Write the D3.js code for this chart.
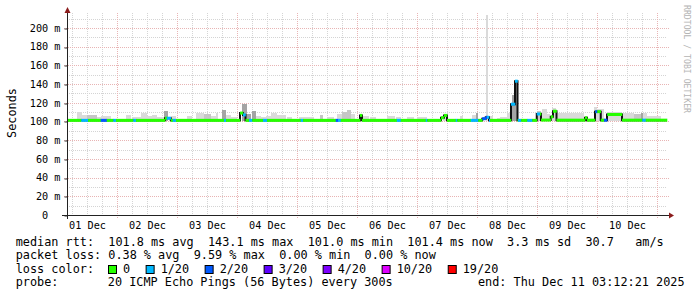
<!DOCTYPE html>
<html>
<head>
<meta charset="utf-8">
<script src="https://cdn.jsdelivr.net/npm/d3@7"></script>
<style>
  body { margin: 0; background: #fff; }
  svg { display: block; }
  text { font-family: "DejaVu Sans Mono", monospace; fill: #000; }
</style>
</head>
<body>
<svg id="chart" width="697" height="297"></svg>
<script>
// hours are counted from 01 Dec 2025 00:00, rtt values are in ms
const START_HOUR = 4;
const END_HOUR = 244;
const Y_TICKS = [0, 20, 40, 60, 80, 100, 120, 140, 160, 180, 200];
const Y_MINOR = [10, 30, 50, 70, 90, 110, 130, 150, 170, 190, 210];
const LOSS_LABELS = ["0", "1/20", "2/20", "3/20", "4/20", "10/20", "19/20"];
const LOSS_COLORS = ["#26ff00", "#00b8ff", "#0059ff", "#5e00ff", "#7e00ff", "#dd00ff", "#ff0000"];

// median rtt: [hour it starts, ms], held until the next entry
const median_steps = [
  [4.0, 101.2], [43.2, 103.5], [45.5, 101.2], [73.2, 109.0], [74.4, 107.0],
  [75.4, 101.2], [121.2, 106.5], [122.0, 101.2], [153.6, 104.0], [154.8, 106.5],
  [156.0, 101.2], [170.1, 103.0], [171.5, 104.5], [172.8, 101.2], [181.6, 118.5],
  [183.2, 143.1], [184.2, 101.2], [191.9, 108.0], [193.6, 101.5], [197.5, 105.0],
  [198.4, 111.0], [199.8, 101.4], [211.2, 104.0], [212.0, 101.4], [215.2, 110.5],
  [217.5, 101.4], [220.0, 107.5], [226.0, 101.4]
];

// packet loss: [from hour, to hour, index in LOSS_LABELS], zero elsewhere
const loss_spans = [
  [9.7, 12.4, 1], [17.5, 19.9, 2], [22.5, 23.6, 1], [30.5, 31.6, 1], [43.9, 45.5, 1],
  [46.3, 47.6, 1], [66.8, 67.6, 1], [74.4, 75.4, 1], [76.8, 78.1, 1], [82.4, 84.0, 1],
  [97.5, 98.4, 1], [111.5, 112.4, 2], [112.4, 113.5, 1], [135.9, 137.5, 1], [147.5, 148.1, 1],
  [159.5, 160.1, 1], [165.5, 168.5, 1], [170.1, 172.0, 2], [172.0, 173.2, 1], [181.6, 184.2, 1],
  [184.4, 185.7, 1], [188.1, 190.1, 1], [191.9, 193.2, 1], [215.3, 216.1, 2], [218.8, 220.1, 2],
  [234.1, 235.5, 1]
];

// smoke: [from hour, to hour, highest ping ms, density 1..3]
const smoke_bars = [
  [8.0, 10.0, 109.8, 1], [10.0, 12.0, 107.0, 1], [12.0, 16.0, 107.3, 2], [16.0, 17.6, 105.1, 1],
  [17.6, 21.6, 105.9, 1], [27.6, 29.6, 107.3, 1], [30.0, 33.6, 105.1, 1], [33.6, 36.0, 108.8, 1],
  [36.0, 38.0, 105.9, 1], [38.0, 40.0, 107.3, 1], [40.0, 42.8, 105.1, 1], [42.8, 44.4, 111.6, 3],
  [45.6, 47.6, 105.9, 1], [52.0, 54.0, 105.9, 1], [55.6, 58.8, 108.8, 1], [58.8, 61.6, 108.0, 2],
  [61.6, 63.6, 105.9, 1], [63.6, 64.4, 109.1, 1], [66.0, 67.6, 112.3, 3], [67.6, 69.6, 107.0, 1],
  [69.6, 72.0, 105.1, 1], [74.0, 76.0, 118.7, 3], [76.0, 77.6, 108.0, 3], [78.0, 79.6, 111.2, 3],
  [79.6, 81.6, 106.2, 1], [81.6, 83.6, 105.1, 1], [83.6, 85.6, 106.2, 1], [85.6, 88.0, 108.8, 1],
  [88.0, 91.6, 107.0, 1], [92.0, 94.0, 105.1, 1], [96.8, 98.8, 105.1, 1], [98.8, 102.8, 104.5, 1],
  [105.2, 106.4, 107.0, 2], [108.0, 110.8, 105.1, 1], [112.0, 114.0, 108.0, 1], [114.0, 116.0, 110.5, 2],
  [116.0, 117.6, 112.3, 2], [117.6, 119.2, 108.0, 1], [122.4, 124.8, 105.9, 1], [125.2, 127.6, 105.1, 1],
  [132.0, 135.2, 105.9, 1], [135.6, 137.6, 105.1, 1], [140.0, 142.8, 105.1, 1], [144.0, 148.0, 105.1, 1],
  [154.4, 156.0, 107.0, 1], [161.2, 162.4, 105.9, 1], [166.0, 167.6, 107.3, 1], [167.6, 168.4, 109.4, 3],
  [171.6, 172.4, 213.9, 1], [172.4, 174.4, 105.9, 1], [176.0, 177.2, 104.1, 1], [177.2, 180.0, 105.1, 1],
  [180.0, 182.0, 108.6, 1], [182.0, 183.2, 128.3, 3], [183.2, 184.0, 143.3, 3], [192.0, 193.6, 111.2, 2],
  [194.0, 196.0, 113.0, 1], [196.0, 197.2, 107.7, 1], [198.0, 199.6, 114.8, 1], [199.6, 201.6, 109.4, 1],
  [201.6, 204.8, 109.4, 1], [204.8, 210.8, 108.6, 1], [210.8, 212.0, 105.1, 3], [214.8, 216.0, 115.8, 1],
  [216.0, 218.8, 113.0, 1], [220.0, 225.6, 110.2, 1], [225.6, 230.8, 108.8, 1], [230.8, 233.6, 107.7, 2],
  [233.6, 234.4, 109.6, 3], [234.4, 236.0, 109.1, 1], [236.0, 241.6, 105.9, 1]
];
const SMOKE_FLOOR = 100.4;

const rtt_line = "median rtt:  101.8 ms avg  143.1 ms max  101.0 ms min  101.4 ms now  3.3 ms sd  30.7   am/s";
const loss_line = "packet loss: 0.38 % avg  9.59 % max  0.00 % min  0.00 % now";
const probe_text = "20 ICMP Echo Pings (56 Bytes) every 300s";
const end_text = "end: Thu Dec 11 03:12:21 2025";

const T0 = Date.UTC(2025, 11, 1);
const hour_date = (h) => new Date(T0 + h * 3600e3);
// keep runs of spaces in svg text
const keep_spaces = (s) => s.replace(/ /g, "\u00a0");

const svg = d3.select("#chart");
const x = d3.scaleUtc().domain([hour_date(START_HOUR), hour_date(END_HOUR)]).range([67, 667]);
const y = d3.scaleLinear().domain([0, 216]).range([215, 13]);
const crisp = (v) => Math.round(v) + 0.5;
const xh = (h) => x(hour_date(h));

// grid
let grid = svg.append("g").attr("stroke-width", 1).attr("stroke-dasharray", "1,1");
let minor_hours = d3.utcHour.every(6).range(hour_date(START_HOUR), hour_date(END_HOUR))
  .filter((d) => d.getUTCHours() != 0);
grid.selectAll(".vmin").data(minor_hours).join("line")
  .attr("stroke", "#d4d4d4")
  .attr("x1", (d) => crisp(x(d))).attr("x2", (d) => crisp(x(d)))
  .attr("y1", 13).attr("y2", 217);
grid.selectAll(".hmin").data(Y_MINOR).join("line")
  .attr("stroke", "#d4d4d4")
  .attr("x1", 67).attr("x2", 667)
  .attr("y1", (d) => crisp(y(d))).attr("y2", (d) => crisp(y(d)));
let days = d3.utcDay.range(hour_date(START_HOUR), hour_date(END_HOUR));
grid.selectAll(".vmaj").data(days).join("line")
  .attr("stroke", "#e8b4b4")
  .attr("x1", (d) => crisp(x(d))).attr("x2", (d) => crisp(x(d)))
  .attr("y1", 13).attr("y2", 218);
grid.selectAll(".hmaj").data(Y_TICKS.filter((v) => v > 0)).join("line")
  .attr("stroke", "#e8b4b4")
  .attr("x1", 64).attr("x2", 670)
  .attr("y1", (d) => crisp(y(d))).attr("y2", (d) => crisp(y(d)));

// smoke
let smoke_color = d3.scaleOrdinal().domain([1, 2, 3]).range(["#dadada", "#c6c6c6", "#a4a4a4"]);
svg.append("g").attr("shape-rendering", "crispEdges")
  .selectAll("rect").data(smoke_bars).join("rect")
  .attr("x", (d) => xh(d[0]))
  .attr("width", (d) => xh(d[1]) - xh(d[0]))
  .attr("y", (d) => y(d[2]))
  .attr("height", (d) => y(SMOKE_FLOOR) - y(d[2]))
  .attr("fill", (d) => smoke_color(d[3]));

// median as a black step line, then the loss coloured band
let median_pts = median_steps.concat([[END_HOUR, median_steps[median_steps.length - 1][1]]]);
svg.append("path")
  .datum(median_pts)
  .attr("fill", "none")
  .attr("stroke", "#111")
  .attr("stroke-width", 2)
  .attr("d", d3.line().x((d) => xh(d[0])).y((d) => y(d[1])).curve(d3.curveStepAfter));

let cuts = new Set([END_HOUR]);
median_steps.forEach((d) => cuts.add(d[0]));
loss_spans.forEach((d) => { cuts.add(d[0]); cuts.add(d[1]); });
cuts = Array.from(cuts).sort((a, b) => a - b);
let pieces = [];
for (let i = 0; i < cuts.length - 1; i++) {
  let a = cuts[i], b = cuts[i + 1], mid = (a + b) / 2;
  let med = median_steps.filter((d) => d[0] <= mid).pop()[1];
  let span = loss_spans.find((d) => d[0] <= mid && mid < d[1]);
  pieces.push({ a: a, b: b, med: med, loss: span ? span[2] : 0 });
}
svg.append("g")
  .selectAll("rect").data(pieces).join("rect")
  .attr("x", (d) => xh(d.a))
  .attr("width", (d) => xh(d.b) - xh(d.a) + 0.3)
  .attr("y", (d) => y(d.med) - 1.5)
  .attr("height", 3)
  .attr("fill", (d) => LOSS_COLORS[d.loss]);

// axes
let y_axis = d3.axisLeft(y).tickValues(Y_TICKS).tickSize(3).tickPadding(4)
  .tickFormat((v) => keep_spaces(v == 0 ? "0  " : v + " m"));
let gy = svg.append("g").attr("transform", "translate(67.5,0)").call(y_axis);
gy.select(".domain").remove();
gy.selectAll("line").attr("stroke", "#333").attr("transform", (d) => `translate(0,${crisp(y(d)) - y(d)})`);
gy.selectAll("text").attr("font-family", "DejaVu Sans Mono").attr("font-size", "10.2px");

let noons = days.map((d) => d3.utcHour.offset(d, 12)).concat([d3.utcHour.offset(hour_date(0), 12)])
  .filter((d) => x(d) > 67 && x(d) < 667);
let x_axis = d3.axisBottom(x).tickValues(noons).tickSize(0).tickPadding(6.3)
  .tickFormat(d3.utcFormat("%d %b"));
let gx = svg.append("g").attr("transform", "translate(0,215)").call(x_axis);
gx.select(".domain").remove();
gx.selectAll("text").attr("font-family", "DejaVu Sans Mono").attr("font-size", "10.2px");

svg.append("line").attr("x1", 62).attr("x2", 670).attr("y1", 215.5).attr("y2", 215.5)
  .attr("stroke", "#222");
svg.append("line").attr("x1", 67.5).attr("x2", 67.5).attr("y1", 219).attr("y2", 11)
  .attr("stroke", "#222");
svg.append("path").attr("d", "M669,212.5L674,215.5L669,218.5Z").attr("fill", "#8b1c1c");
svg.append("path").attr("d", "M64.5,13L67.5,7L70.5,13Z").attr("fill", "#8b1c1c");

// titles
svg.append("text").attr("transform", "translate(15.5,113) rotate(-90)")
  .attr("text-anchor", "middle").attr("font-size", "11.83px").text("Seconds");
svg.append("text").attr("transform", "translate(683.5,5) rotate(90)")
  .attr("font-size", "8.6px").style("fill", "#b4b4b4")
  .attr("textLength", 108).attr("lengthAdjust", "spacingAndGlyphs")
  .text(keep_spaces("RRDTOOL / TOBI OETIKER"));

// legend
const LEG_X = 15.7;
let legend = svg.append("g").attr("font-size", "11.83px");
legend.append("text").attr("x", LEG_X).attr("y", 245.5).text(keep_spaces(rtt_line));
legend.append("text").attr("x", LEG_X).attr("y", 259).text(keep_spaces(loss_line));
legend.append("text").attr("x", LEG_X).attr("y", 272.5).text(keep_spaces("loss color:"));
legend.append("text").attr("x", LEG_X).attr("y", 286).text("probe:");
legend.append("text").attr("x", 107.8).attr("y", 286).text(keep_spaces(probe_text));
legend.append("text").attr("x", 478).attr("y", 286).text(keep_spaces(end_text));

let lx = 108.5;
LOSS_LABELS.forEach((label, i) => {
  legend.append("rect").attr("x", lx).attr("y", 265.5).attr("width", 8).attr("height", 8)
    .attr("fill", LOSS_COLORS[i]).attr("stroke", "#000");
  let t = legend.append("text").attr("x", lx + 14.5).attr("y", 272.5).text(label);
  lx = lx + 14.5 + t.node().getComputedTextLength() + 16;
});
</script>
</body>
</html>
